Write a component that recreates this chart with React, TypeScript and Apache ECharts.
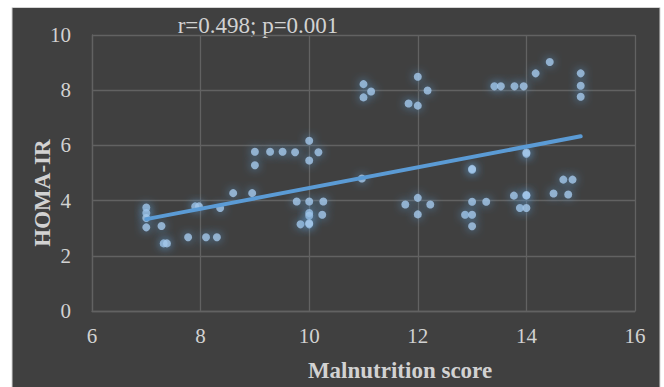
import React, { useEffect, useRef } from "react";
import * as echarts from "echarts";

const malnutritionScore: number[] = [
  7, 7, 7, 7, 7.28, 7.32, 7.38, 7.77, 8.1, 8.3, 7.9, 7.97, 8.36,
  8.6, 8.95, 9, 9, 9.28, 9.51, 9.74, 10, 10.17, 10,
  9.77, 10, 10.26, 10, 10, 10.24, 9.84, 10, 10,
  11, 11, 11.14, 10.97,
  11.83, 12, 12, 12.18, 12, 11.77, 12.23, 12,
  13, 13, 13, 13.26, 12.87, 13, 13,
  13.41, 13.53, 13.78, 13.95, 14.17, 14.43,
  14, 14, 13.77, 14, 14, 13.88, 14, 14.5, 14.68, 14.85, 14.77,
  15, 15, 15,
];
const homaIR: number[] = [
  3.75, 3.55, 3.37, 3.03, 3.08, 2.45, 2.45, 2.67, 2.67, 2.67, 3.79, 3.79, 3.73,
  4.27, 4.27, 5.77, 5.28, 5.77, 5.77, 5.75, 6.17, 5.75, 5.45,
  3.97, 3.97, 3.97, 3.55, 3.45, 3.49, 3.14, 3.14, 3.18,
  8.22, 7.74, 7.95, 4.8,
  7.52, 7.44, 8.49, 7.99, 4.1, 3.86, 3.86, 3.5,
  5.12, 5.15, 3.96, 3.96, 3.49, 3.49, 3.07,
  8.14, 8.14, 8.14, 8.14, 8.61, 9.02,
  5.7, 5.74, 4.18, 4.18, 4.2, 3.73, 3.73, 4.26, 4.76, 4.76, 4.22,
  8.61, 8.16, 7.76,
];
const trendX: number[] = [7, 15];
const trendY: number[] = [3.33, 6.33];
const xTicks: number[] = [6, 8, 10, 12, 14, 16];
const yTicks: number[] = [0, 2, 4, 6, 8, 10];
const annotation = "r=0.498; p=0.001";
const xTitle = "Malnutrition score";
const yTitle = "HOMA-IR";

export default function App() {
  const ref = useRef<HTMLDivElement>(null);
  useEffect(() => {
    if (!ref.current) return;
    const chart = echarts.init(ref.current, undefined, { renderer: "svg" });
    const font = "'Liberation Serif', 'Times New Roman', serif";
    const textColor = "#d2d2d2";
    const gridColor = "#626262";
    chart.setOption({
      animation: false,
      backgroundColor: "#ffffff",
      graphic: [
        {
          type: "rect",
          z: -10,
          shape: { x: 12, y: 7.5, width: 648, height: 380 },
          style: { fill: "#404040", stroke: "#d4d4d4", lineWidth: 1 },
        },
        {
          type: "text",
          x: 258,
          y: 25,
          style: {
            text: annotation,
            fill: textColor,
            font: `23px ${font}`,
            textAlign: "center",
            textVerticalAlign: "middle",
          },
        },
      ],
      grid: { left: 92, right: 29, top: 35, bottom: 75.7, containLabel: false },
      xAxis: {
        type: "value",
        min: xTicks[0],
        max: xTicks[xTicks.length - 1],
        interval: 2,
        name: xTitle,
        nameLocation: "middle",
        nameGap: 48,
        nameMoveOverlap: false,
        nameTextStyle: {
          color: textColor,
          fontFamily: font,
          fontSize: 23,
          fontWeight: "bold",
          padding: [0, 0, 0, 73],
        },
        axisLine: { show: true, lineStyle: { color: gridColor, width: 1.3 } },
        axisTick: { show: false },
        axisLabel: { color: textColor, fontFamily: font, fontSize: 21, margin: 14 },
        splitLine: { show: true, lineStyle: { color: gridColor, width: 1.3 } },
      },
      yAxis: {
        type: "value",
        min: yTicks[0],
        max: yTicks[yTicks.length - 1],
        interval: 2,
        name: yTitle,
        nameLocation: "middle",
        nameGap: 38,
        nameMoveOverlap: false,
        nameRotate: 90,
        nameTextStyle: {
          color: textColor,
          fontFamily: font,
          fontSize: 23,
          fontWeight: "bold",
          padding: [0, 40, 0, 0],
        },
        axisLine: { show: true, lineStyle: { color: gridColor, width: 1.3 } },
        axisTick: { show: false },
        axisLabel: { color: textColor, fontFamily: font, fontSize: 21, margin: 21 },
        splitLine: { show: true, lineStyle: { color: gridColor, width: 1.3 } },
      },
      series: [
        {
          type: "scatter",
          data: malnutritionScore.map((x, i) => [x, homaIR[i]]),
          symbol: "circle",
          symbolSize: 8,
          itemStyle: {
            color: "#a4c8eb",
            shadowColor: "rgba(91,155,213,1)",
            shadowBlur: 10,
          },
          z: 2,
        },
        {
          type: "line",
          data: trendX.map((x, i) => [x, trendY[i]]),
          symbol: "none",
          lineStyle: { color: "#5b9bd5", width: 4, cap: "round" },
          z: 3,
        },
      ],
    });
    return () => chart.dispose();
  }, []);
  return (
    <div
      ref={ref}
      style={{ position: "fixed", left: 0, top: 0, width: 664, height: 387 }}
    />
  );
}
